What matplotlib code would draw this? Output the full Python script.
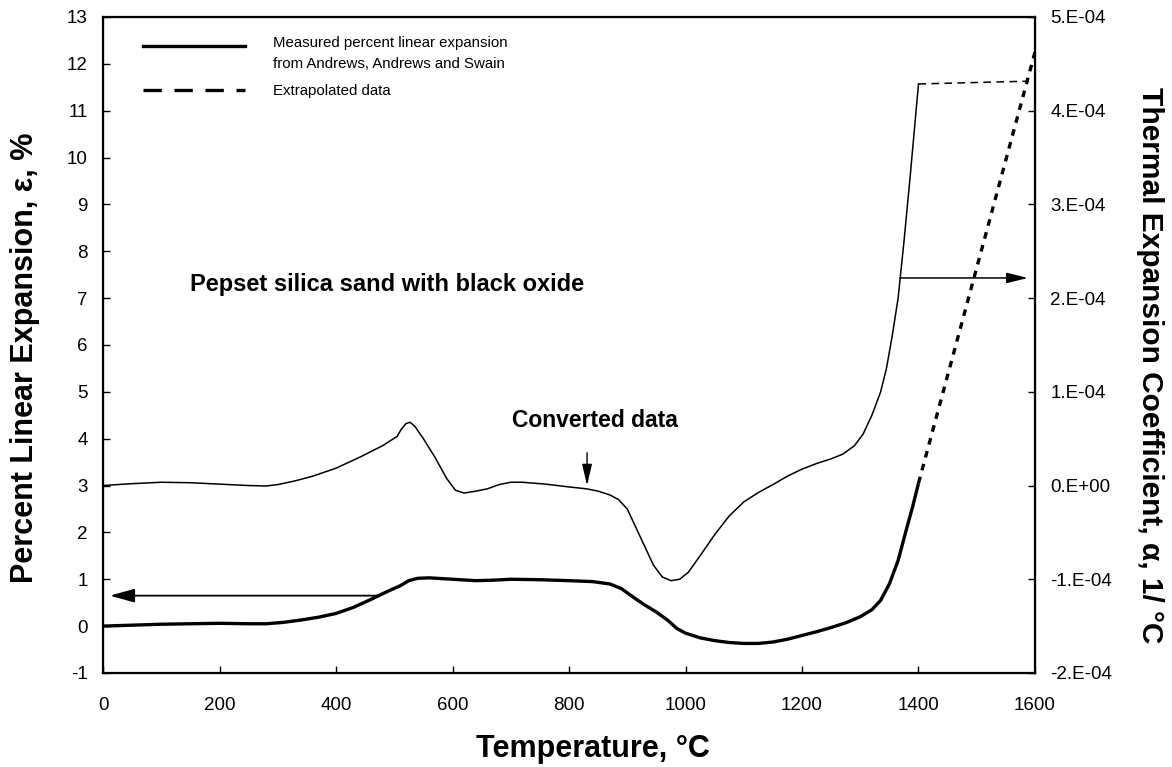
import matplotlib.pyplot as plt

plt.rcParams["font.family"] = ["Liberation Sans", "DejaVu Sans"]
plt.rcParams["axes.unicode_minus"] = False

# measured percent linear expansion (left axis, %)
temp_eps = [0, 50, 100, 150, 200, 250, 280, 310, 340, 370, 400, 430, 460, 490, 510,
            525, 540, 560, 600, 640, 670, 700, 750, 800, 840, 870, 890, 910, 930, 950,
            970, 985, 1000, 1025, 1050, 1075, 1100, 1125, 1150, 1175, 1200, 1225, 1250,
            1275, 1300, 1320, 1335, 1350, 1365, 1380, 1390, 1400]
eps = [0.0, 0.02, 0.04, 0.05, 0.06, 0.05, 0.05, 0.08, 0.13, 0.19, 0.27, 0.4, 0.57,
       0.75, 0.86, 0.97, 1.02, 1.03, 1.0, 0.97, 0.98, 1.0, 0.99, 0.97, 0.95, 0.9, 0.8,
       0.62, 0.45, 0.3, 0.12, -0.05, -0.15, -0.25, -0.31, -0.35, -0.37, -0.37, -0.34,
       -0.28, -0.2, -0.12, -0.03, 0.07, 0.2, 0.35, 0.55, 0.9, 1.4, 2.1, 2.55, 3.05]
temp_eps_ext = [1400, 1600]
eps_ext = [3.05, 12.25]

# converted thermal expansion coefficient (right axis, in units of 1E-04 1/°C)
temp_alpha = [0, 50, 100, 150, 200, 250, 280, 300, 330, 360, 400, 440, 480, 505, 512,
              520, 527, 535, 550, 570, 590, 605, 620, 640, 660, 680, 700, 720, 760, 800,
              830, 850, 870, 885, 900, 915, 930, 945, 960, 975, 990, 1005, 1025, 1050,
              1075, 1100, 1125, 1150, 1175, 1200, 1225, 1250, 1270, 1290, 1305, 1320,
              1335, 1345, 1355, 1365, 1375, 1385, 1400]
alpha = [0.0, 0.02, 0.035, 0.03, 0.015, 0.0, -0.005, 0.01, 0.05, 0.1, 0.185, 0.3,
         0.425, 0.525, 0.6, 0.66, 0.675, 0.635, 0.5, 0.3, 0.075, -0.05, -0.08, -0.06,
         -0.035, 0.01, 0.035, 0.035, 0.015, -0.015, -0.035, -0.06, -0.1, -0.15, -0.25,
         -0.45, -0.65, -0.85, -0.975, -1.015, -1.0, -0.925, -0.75, -0.525, -0.325,
         -0.175, -0.075, 0.01, 0.1, 0.175, 0.235, 0.285, 0.335, 0.425, 0.55, 0.75, 1.0,
         1.25, 1.6, 2.0, 2.6, 3.25, 4.285]
temp_alpha_ext = [1400, 1590]
alpha_ext = [4.285, 4.315]

right_ticks = [-2, -1, 0, 1, 2, 3, 4, 5]
right_labels = ["-2.E-04", "-1.E-04", "0.E+00", "1.E-04", "2.E-04", "3.E-04", "4.E-04", "5.E-04"]

fig = plt.figure(figsize=(11.72, 7.67), dpi=100)
ax1 = fig.add_axes([0.0879, 0.1226, 0.7952, 0.8553])
ax1.plot(temp_eps, eps, color="black", linewidth=2.4, solid_capstyle="butt")
ax1.plot(temp_eps_ext, eps_ext, color="black", linewidth=2.4, linestyle=(0, (2.0, 2.0)))
ax1.set_xlim(0, 1600)
ax1.set_ylim(-1, 13)
ax1.set_xticks(range(0, 1601, 200))
ax1.set_yticks(range(-1, 14))
ax1.tick_params(direction="in", length=5, width=1, labelsize=13.5)
ax1.tick_params(axis="y", pad=11)
ax1.tick_params(axis="x", pad=17)
for s in ax1.spines.values():
    s.set_linewidth(1.6)
ax1.set_xlabel("Temperature, °C", fontsize=22, fontweight="bold")
ax1.xaxis.set_label_coords(0.526, -0.093)
ax1.set_ylabel("Percent Linear Expansion, ε, %", fontsize=22, fontweight="bold")
ax1.yaxis.set_label_coords(-0.0676, 0.48)

ax2 = ax1.twinx()
ax2.plot(temp_alpha, alpha, color="black", linewidth=1.1)
ax2.plot(temp_alpha_ext, alpha_ext, color="black", linewidth=1.1, linestyle=(0, (5, 3.5)))
ax2.set_ylim(-2, 5)
ax2.set_yticks(right_ticks)
ax2.set_yticklabels(right_labels)
ax2.tick_params(direction="in", length=5, width=1, labelsize=13.5, pad=11)
ax2.set_ylabel("Thermal Expansion Coefficient, α, 1/ °C", fontsize=21.5, fontweight="bold",
               rotation=270)
ax2.yaxis.set_label_coords(1.1384, 0.4695)

# annotations
ax1.text(150, 7.3, "Pepset silica sand with black oxide", fontsize=17, fontweight="bold",
         va="center", ha="left")
ax1.text(845, 4.38, "Converted data", fontsize=16.5, fontweight="bold", va="center", ha="center")
ax1.annotate("", xy=(831, 3.0), xytext=(831, 3.7),
             arrowprops=dict(arrowstyle="-|>,head_length=1.3,head_width=0.3", color="black", lw=1,
                             shrinkA=0, shrinkB=0))
ax1.annotate("", xy=(12, 0.65), xytext=(472, 0.65),
             arrowprops=dict(arrowstyle="-|>,head_length=1.5,head_width=0.42", color="black", lw=1.3,
                             shrinkA=0, shrinkB=0))
ax1.annotate("", xy=(1588, 7.43), xytext=(1368, 7.43),
             arrowprops=dict(arrowstyle="-|>,head_length=1.3,head_width=0.32", color="black", lw=1.1,
                             shrinkA=0, shrinkB=0))

# legend, drawn by hand to match the original layout
tr = ax1.transAxes
ax1.plot([0.0429, 0.1524], [0.9558, 0.9558], color="black", linewidth=2.4, transform=tr)
ax1.plot([0.0429, 0.1524], [0.8887, 0.8887], color="black", linewidth=2.4,
         linestyle=(0, (5.5, 3.8)), transform=tr)
ax1.text(0.1824, 0.9604, "Measured percent linear expansion", fontsize=10.8, va="center",
         ha="left", transform=tr)
ax1.text(0.1824, 0.9284, "from Andrews, Andrews and Swain", fontsize=10.8, va="center",
         ha="left", transform=tr)
ax1.text(0.1824, 0.8872, "Extrapolated data", fontsize=10.8, va="center", ha="left", transform=tr)

fig.savefig("out.png", dpi=100)
